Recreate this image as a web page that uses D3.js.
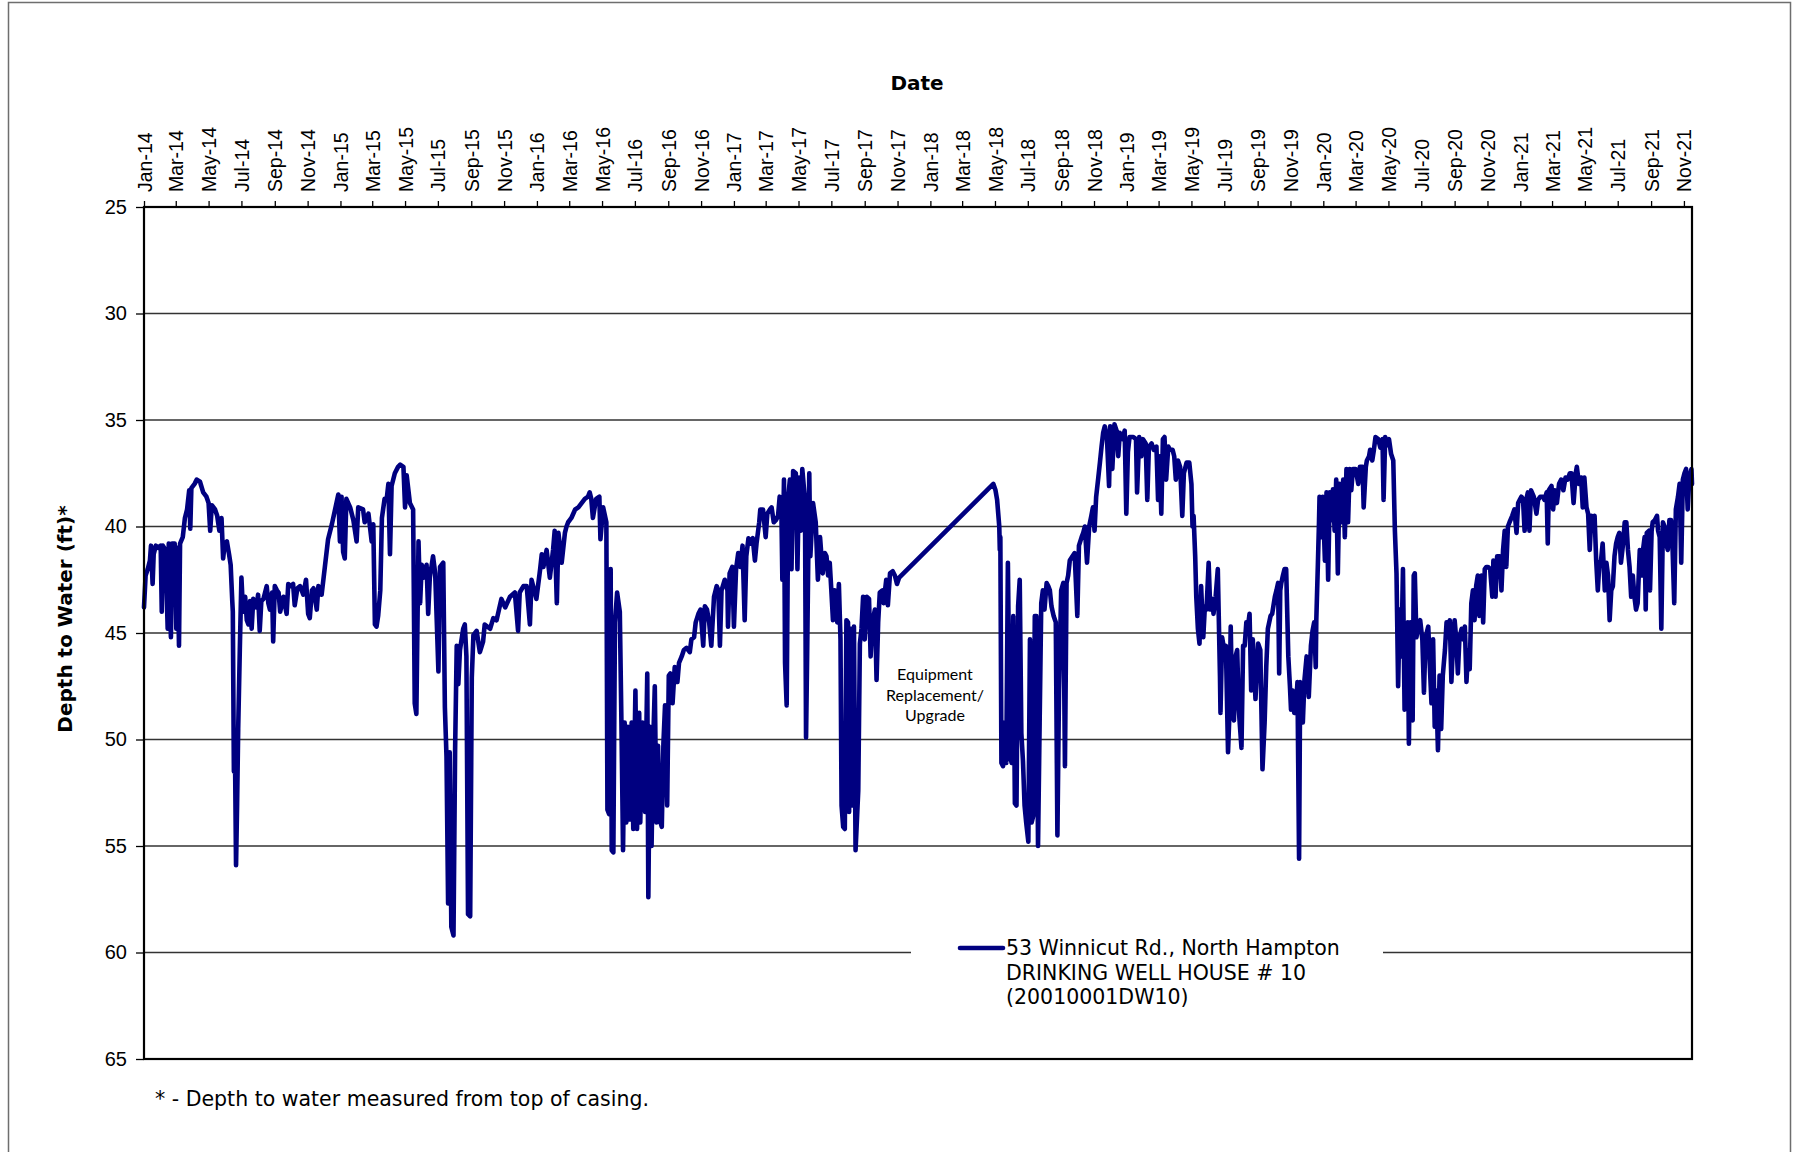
<!DOCTYPE html>
<html>
<head>
<meta charset="utf-8">
<title>Depth to Water - Drinking Well House #10</title>
<script src="https://cdn.jsdelivr.net/npm/d3@7"></script>
<style>
  body { margin: 0; background: #fff; }
  svg { display: block; }
</style>
</head>
<body>
<svg id="chart" width="1793" height="1152"></svg>
<script>
// Depth-to-water readings, one list per calendar year: [day of year, depth (ft)]
const depth2014 = [[1,43.8],[4,42.3],[8,42.0],[12,41.6],[14,40.9],[17,42.7],[19,41.3],[23,40.9],[27,41.0],[32,40.9],[34,44.0],[36,40.9],[41,41.1],[45,44.8],[47,40.8],[51,45.2],[53,40.8],[58,40.8],[61,44.8],[63,41.0],[66,45.6],[68,40.8],[73,40.5],[77,39.6],[81,39.2],[85,38.3],[87,40.1],[89,38.2],[95,38.0],[99,37.8],[105,37.9],[111,38.4],[117,38.6],[121,38.9],[124,40.2],[127,39.0],[133,39.2],[137,39.5],[141,40.2],[145,39.6],[148,41.5],[151,40.8],[155,40.7],[159,41.3],[162,41.8],[165,43.5],[166,44.0],[168,51.5],[170,50.5],[172,55.9],[174,53.0],[176,49.5],[179,45.8],[182,42.4],[185,44.0],[189,43.3],[192,44.4],[195,44.6],[198,43.5],[201,44.8],[204,43.4],[210,43.8],[213,43.2],[216,44.9],[219,43.5],[223,43.4],[229,42.8],[232,43.6],[235,43.9],[239,43.1],[241,45.4],[244,42.8],[248,43.0],[251,43.1],[254,44.0],[260,43.3],[266,44.1],[269,42.7],[273,42.8],[278,42.7],[281,43.7],[286,42.9],[291,42.8],[297,43.2],[302,42.5],[306,44.1],[309,44.3],[313,43.0],[316,42.9],[322,43.9],[325,42.8],[331,43.2],[337,41.9],[343,40.6],[350,39.9],[356,39.2],[362,38.5],[365,40.7]];

const depth2015 = [[3,38.6],[6,41.2],[9,41.5],[12,38.7],[19,39.1],[25,39.7],[31,40.7],[34,39.1],[43,39.2],[46,39.8],[53,39.4],[59,40.7],[62,39.9],[65,44.6],[68,44.7],[71,44.2],[75,43.0],[78,39.6],[83,38.7],[87,38.7],[90,38.0],[93,41.3],[96,38.1],[102,37.5],[108,37.2],[112,37.1],[118,37.2],[121,39.1],[124,37.6],[130,38.9],[136,39.2],[139,48.3],[142,48.8],[146,40.7],[149,43.6],[152,41.8],[155,42.4],[161,41.8],[164,44.1],[167,42.4],[173,41.4],[177,42.2],[183,46.8],[186,41.9],[192,41.7],[195,48.5],[198,50.8],[201,57.7],[204,50.6],[207,58.8],[211,59.2],[214,50.5],[217,45.6],[220,47.4],[223,45.8],[229,44.8],[232,44.6],[235,46.1],[238,58.2],[242,58.3],[245,47.1],[248,45.1],[254,44.9],[260,45.9],[266,45.4],[269,44.6],[279,44.8],[285,44.3],[291,44.4],[300,43.4],[307,43.8],[316,43.3],[325,43.1],[331,44.9],[334,43.1],[341,42.8],[347,42.8],[353,44.6],[356,42.5],[365,43.4]];

const depth2016 = [[7,42.0],[10,41.3],[13,41.9],[19,41.1],[25,42.4],[31,41.1],[34,40.2],[38,43.6],[41,40.3],[47,41.7],[53,40.3],[56,40.0],[59,39.8],[65,39.6],[72,39.2],[78,39.1],[84,38.9],[90,38.7],[96,38.6],[99,38.4],[102,38.7],[105,39.6],[111,38.7],[117,38.6],[119,40.6],[124,39.1],[130,39.8],[132,53.3],[135,53.5],[138,42.0],[140,55.2],[143,55.3],[146,44.5],[150,43.1],[155,44.0],[158,49.2],[161,55.2],[164,49.2],[167,53.9],[170,49.4],[174,53.75],[177,49.2],[180,54.2],[184,47.7],[187,54.2],[191,48.75],[193,53.9],[197,49.2],[202,53.4],[206,46.9],[208,57.4],[211,49.4],[214,55.0],[217,50.2],[220,47.5],[223,53.9],[226,50.3],[229,53.75],[233,54.1],[236,50.2],[239,48.4],[243,53.1],[246,47.0],[249,46.9],[253,48.3],[257,46.6],[262,47.3],[265,46.4],[270,46.1],[274,45.8],[279,45.7],[285,45.9],[288,45.3],[293,45.2],[296,44.5],[301,44.1],[305,43.9],[310,45.6],[313,43.75],[317,43.9],[321,44.5],[325,45.6],[330,43.3],[335,42.8],[338,43.0],[341,45.6],[344,43.0],[350,42.5],[355,43.0],[356,44.7],[359,42.2],[364,41.9]];

const depth2017 = [[1,44.7],[5,42.0],[9,41.25],[13,41.9],[17,40.9],[21,44.4],[24,41.4],[28,40.55],[32,40.8],[36,40.55],[40,41.6],[43,40.8],[48,39.8],[50,39.2],[55,39.2],[60,40.5],[63,39.4],[68,39.2],[71,39.1],[75,39.8],[79,39.7],[83,39.5],[86,38.6],[89,38.9],[91,42.5],[94,37.8],[96,46.4],[99,48.4],[102,38.6],[105,37.8],[108,42.0],[111,37.4],[116,37.5],[119,42.0],[122,37.7],[125,40.2],[128,37.3],[133,38.75],[135,49.9],[137,46.1],[141,37.5],[143,41.4],[148,38.9],[153,39.8],[157,42.5],[161,40.5],[166,42.2],[170,41.25],[173,41.4],[176,42.3],[179,41.7],[182,43.0],[185,44.4],[188,43.0],[193,44.5],[196,42.7],[199,45.3],[201,53.1],[204,54.1],[207,54.2],[210,44.4],[213,44.5],[215,53.4],[218,44.8],[221,53.1],[224,44.7],[227,55.2],[232,52.4],[235,45.5],[238,44.8],[241,43.3],[244,45.3],[248,43.3],[252,43.4],[255,46.1],[258,44.5],[263,43.9],[266,47.2],[269,44.5],[272,43.1],[277,43.0],[279,43.6],[284,42.5],[287,43.7],[291,42.2],[296,42.1],[300,42.3],[304,42.7],[308,42.4]];

const depth2018 = [[118,38.0],[122,38.3],[125,38.75],[129,40.0],[130,41.1],[131,40.5],[133,51.1],[136,51.25],[139,49.2],[142,51.1],[145,41.7],[149,50.8],[152,51.1],[155,44.2],[158,53.0],[161,53.1],[164,43.75],[167,42.5],[170,49.7],[173,51.0],[176,53.1],[179,53.9],[183,54.8],[186,45.3],[189,53.9],[192,53.6],[195,44.2],[198,44.2],[201,55.0],[204,49.2],[207,43.6],[210,43.0],[213,43.9],[217,42.65],[220,42.8],[223,43.0],[226,43.75],[230,44.2],[234,44.5],[237,54.5],[240,47.7],[244,43.0],[248,42.65],[251,51.25],[254,42.65],[257,42.3],[260,41.6],[265,41.4],[269,41.25],[274,44.2],[277,40.9],[282,40.5],[285,40.3],[288,40.0],[292,41.7],[296,40.0],[300,39.5],[303,39.1],[306,40.2],[309,38.6],[313,37.7],[316,37.0],[319,36.25],[322,35.6],[325,35.3],[329,35.8],[333,38.1],[335,35.3],[339,37.3],[343,35.2],[347,35.5],[350,36.7],[353,35.6],[358,35.9],[362,35.5],[365,39.4]];

const depth2019 = [[3,36.5],[6,35.8],[13,35.8],[18,35.9],[20,38.4],[24,35.8],[28,36.7],[31,35.9],[36,36.1],[39,38.75],[42,36.25],[47,36.1],[51,36.4],[56,36.25],[59,38.75],[62,36.7],[65,39.4],[68,35.9],[71,35.8],[74,37.8],[78,36.25],[81,36.4],[86,36.4],[89,36.7],[92,37.8],[96,36.9],[100,37.2],[104,39.5],[107,37.5],[112,37.0],[117,37.0],[121,38.0],[123,40.0],[125,39.5],[128,41.4],[130,43.3],[133,44.8],[136,45.5],[139,42.8],[143,45.2],[146,43.75],[149,43.9],[153,41.7],[156,43.9],[160,43.4],[162,44.1],[166,43.3],[170,42.0],[174,47.0],[175,48.75],[178,45.2],[182,45.8],[185,45.6],[189,50.6],[191,49.2],[194,44.7],[197,48.9],[200,49.1],[203,46.1],[206,45.8],[209,48.6],[214,50.4],[217,45.6],[220,45.6],[223,44.5],[226,44.7],[229,44.1],[232,47.7],[235,45.3],[240,48.1],[245,45.5],[249,45.8],[253,51.4],[257,49.2],[260,46.6],[263,44.8],[268,44.2],[271,44.1],[276,43.3],[279,43.0],[282,42.65],[284,46.9],[286,43.0],[288,42.65],[291,42.3],[294,42.0],[297,42.0],[301,46.1],[304,47.5],[306,48.6],[309,47.7],[312,48.75],[315,48.6],[318,47.3],[321,55.6],[323,47.3],[326,47.5],[328,49.2],[331,47.2],[335,46.1],[339,48.0],[343,45.6],[346,44.9],[349,44.5],[352,46.6],[353,44.4],[356,41.7],[358,39.8],[359,38.6],[362,40.5],[365,38.6]];

const depth2020 = [[4,41.6],[7,38.4],[10,42.5],[13,38.4],[16,39.7],[19,38.25],[22,40.2],[25,37.8],[28,42.2],[31,38.0],[35,39.8],[38,37.8],[41,40.5],[44,37.3],[47,39.8],[50,37.3],[53,38.3],[56,37.3],[61,37.3],[66,38.0],[69,37.2],[74,37.2],[76,39.1],[80,37.2],[82,36.9],[86,36.7],[88,36.4],[92,36.9],[95,36.4],[98,35.8],[103,35.9],[107,36.3],[111,35.9],[113,38.75],[116,35.8],[119,36.2],[123,35.9],[127,36.6],[131,36.9],[134,40.2],[137,42.2],[140,47.5],[143,43.9],[146,46.1],[149,42.0],[152,48.6],[155,47.7],[158,44.5],[160,50.2],[163,44.5],[167,49.1],[169,42.3],[171,42.2],[174,45.2],[179,44.5],[181,44.4],[185,45.3],[188,47.8],[191,45.2],[196,44.7],[199,46.6],[202,48.3],[205,45.3],[208,49.4],[211,47.7],[214,50.5],[217,47.0],[220,49.5],[223,47.0],[227,45.8],[230,44.5],[233,45.2],[236,44.4],[239,47.3],[242,45.5],[245,44.4],[248,45.3],[251,46.9],[254,45.2],[258,44.8],[261,45.3],[264,44.7],[267,47.3],[270,45.8],[273,46.7],[276,43.6],[279,43.0],[282,44.4],[285,42.8],[288,42.3],[291,44.2],[295,42.3],[298,44.5],[301,42.0],[304,41.9],[307,41.9],[311,42.0],[315,43.3],[317,41.6],[321,43.3],[324,41.4],[329,41.4],[332,43.0],[335,41.1],[338,40.2],[341,41.9],[344,40.0],[347,39.8],[352,39.5],[356,39.2],[360,40.3],[363,38.9],[366,38.75]];

const depth2021 = [[3,38.6],[6,38.7],[9,40.2],[12,38.75],[15,38.4],[18,40.2],[21,38.3],[26,38.6],[31,39.4],[34,38.75],[38,38.6],[43,38.6],[46,38.75],[50,38.4],[52,40.8],[54,38.3],[59,38.1],[62,39.2],[65,38.3],[69,38.9],[73,38.0],[77,37.8],[81,38.3],[85,37.7],[89,37.8],[93,37.5],[96,37.5],[100,38.9],[104,37.5],[106,37.2],[110,38.0],[114,37.7],[117,39.1],[120,37.7],[124,39.1],[127,39.4],[130,41.1],[133,39.5],[136,40.2],[139,39.5],[142,41.6],[145,43.0],[148,41.7],[151,41.6],[154,40.8],[158,43.0],[161,41.7],[164,42.3],[167,44.4],[170,43.0],[173,42.8],[176,41.4],[179,40.8],[182,40.5],[185,40.3],[188,41.7],[192,40.8],[195,39.8],[198,39.8],[201,41.1],[204,41.9],[207,43.3],[210,42.3],[213,43.3],[216,43.9],[219,43.6],[223,41.1],[226,42.3],[229,41.1],[232,40.5],[234,43.9],[236,40.3],[240,40.2],[242,43.0],[245,40.2],[247,39.8],[251,39.7],[255,39.5],[257,40.2],[260,40.5],[263,44.8],[266,39.8],[269,40.0],[272,40.8],[275,41.1],[278,39.7],[281,39.7],[284,41.1],[287,43.6],[290,39.2],[294,38.6],[297,38.0],[300,41.7],[303,37.8],[306,37.5],[309,37.3],[312,39.2],[315,37.7],[319,37.3],[320,38.0]];

const yearlySeries = [
  [2014, depth2014], [2015, depth2015], [2016, depth2016], [2017, depth2017],
  [2018, depth2018], [2019, depth2019], [2020, depth2020], [2021, depth2021]
];

const depthTicks = [25, 30, 35, 40, 45, 50, 55, 60, 65];
const gridValues = [30, 35, 40, 45, 50, 55, 60];
const legendLines = ["53 Winnicut Rd., North Hampton", "DRINKING WELL HOUSE # 10", "(20010001DW10)"];
const annotationLines = ["Equipment", "Replacement/", "Upgrade"];
const footnoteText = "* - Depth to water measured from top of casing.";

// ---- flatten to dated readings ----
const readings = yearlySeries.flatMap(([year, rows]) =>
  rows.map(([doy, depth]) => ({ date: new Date(year, 0, doy), depth })));

const plot = { left: 144, right: 1692, top: 207, bottom: 1059 };
const lineColor = "#000080";

const x = d3.scaleTime()
  .domain([new Date(2014, 0, 1), new Date(2021, 10, 16)])
  .range([plot.left, plot.right]);

const y = d3.scaleLinear()
  .domain([25, 65])
  .range([plot.top, plot.bottom]);

const svg = d3.select("#chart");

// outer chart border
svg.append("rect")
  .attr("x", 8.5).attr("y", 2.5)
  .attr("width", 1782).attr("height", 1170)
  .attr("fill", "#fff")
  .attr("stroke", "#6e6e6e").attr("stroke-width", 1.5);

// horizontal gridlines
svg.append("g").selectAll("line")
  .data(gridValues)
  .join("line")
  .attr("x1", plot.left).attr("x2", plot.right)
  .attr("y1", d => y(d)).attr("y2", d => y(d))
  .attr("stroke", "#333").attr("stroke-width", 1.3);

// legend background interrupts the bottom gridline
svg.append("rect")
  .attr("x", 911).attr("y", 928)
  .attr("width", 472).attr("height", 86)
  .attr("fill", "#fff");

// y axis (depth, increasing downward)
const yAxis = svg.append("g")
  .attr("transform", `translate(${plot.left},0)`)
  .call(d3.axisLeft(y).tickValues(depthTicks).tickSize(8).tickPadding(9));
yAxis.select(".domain").remove();
yAxis.selectAll(".tick line").attr("stroke", "#000").attr("stroke-width", 1.3);
yAxis.selectAll("text")
  .attr("font-family", "'Liberation Sans', Arial, sans-serif")
  .attr("font-size", 20).attr("fill", "#000");

// x axis along the top, labels every two months, rotated
const monthTicks = d3.timeMonth.every(2).range(new Date(2014, 0, 1), new Date(2021, 10, 2));
const xAxis = svg.append("g")
  .attr("transform", `translate(0,${plot.top})`)
  .call(d3.axisTop(x).tickValues(monthTicks).tickFormat(d3.timeFormat("%b-%y")).tickSize(6));
xAxis.select(".domain").remove();
xAxis.selectAll(".tick line").attr("stroke", "#000").attr("stroke-width", 1.3);
xAxis.selectAll("text")
  .attr("transform", "rotate(-90)")
  .attr("x", 15).attr("y", 0).attr("dy", "0.36em")
  .attr("text-anchor", "start")
  .attr("font-family", "'Liberation Sans', Arial, sans-serif")
  .attr("font-size", 19.5).attr("fill", "#000");

// depth series
const line = d3.line()
  .x(d => x(d.date))
  .y(d => y(d.depth));

svg.append("path")
  .datum(readings)
  .attr("d", line)
  .attr("fill", "none")
  .attr("stroke", lineColor)
  .attr("stroke-width", 4.6)
  .attr("stroke-linejoin", "round")
  .attr("stroke-linecap", "round");

// plot frame
svg.append("rect")
  .attr("x", plot.left).attr("y", plot.top)
  .attr("width", plot.right - plot.left).attr("height", plot.bottom - plot.top)
  .attr("fill", "none").attr("stroke", "#000").attr("stroke-width", 2.2);

// axis titles
svg.append("text")
  .attr("x", 917).attr("y", 90)
  .attr("text-anchor", "middle")
  .attr("font-family", "'DejaVu Sans', Verdana, sans-serif")
  .attr("font-weight", "bold").attr("font-size", 20)
  .text("Date");

svg.append("text")
  .attr("transform", "translate(72,619) rotate(-90)")
  .attr("text-anchor", "middle")
  .attr("font-family", "'DejaVu Sans', Verdana, sans-serif")
  .attr("font-weight", "bold").attr("font-size", 20)
  .text("Depth to Water (ft)*");

// annotation for the data gap
svg.append("text")
  .attr("text-anchor", "middle")
  .attr("font-family", "Lato, 'Open Sans', sans-serif")
  .attr("font-size", 16).attr("fill", "#000")
  .selectAll("tspan")
  .data(annotationLines)
  .join("tspan")
  .attr("x", 935).attr("y", (d, i) => 680 + i * 20.5)
  .text(d => d);

// legend
svg.append("line")
  .attr("x1", 960).attr("x2", 1003)
  .attr("y1", 948).attr("y2", 948)
  .attr("stroke", lineColor).attr("stroke-width", 4.6)
  .attr("stroke-linecap", "round");

svg.append("text")
  .attr("font-family", "'DejaVu Sans', Verdana, sans-serif")
  .attr("font-size", 20.5).attr("fill", "#000")
  .selectAll("tspan")
  .data(legendLines)
  .join("tspan")
  .attr("x", 1006).attr("y", (d, i) => 955 + i * 24.5)
  .text(d => d);

// footnote
svg.append("text")
  .attr("x", 155).attr("y", 1106)
  .attr("font-family", "'DejaVu Sans', Verdana, sans-serif")
  .attr("font-size", 20.5).attr("fill", "#000")
  .text(footnoteText);
</script>
</body>
</html>
